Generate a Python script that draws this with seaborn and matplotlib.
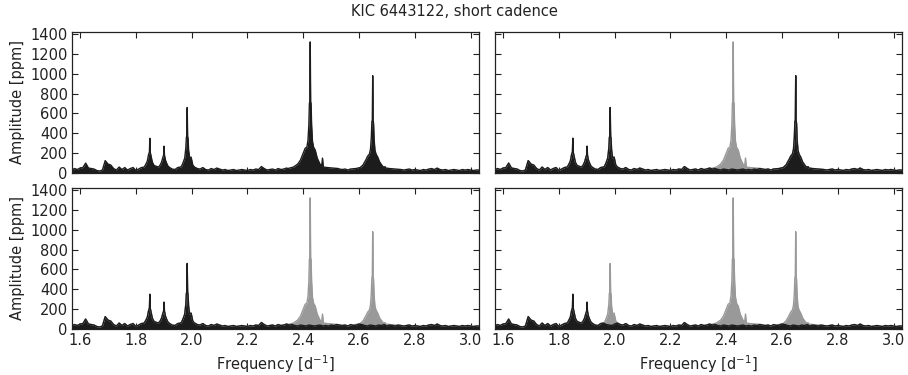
import numpy as np
import pandas as pd
import matplotlib
matplotlib.use("Agg")
import matplotlib.pyplot as plt
import seaborn as sns

# Background (residual-level) noise, read every 0.01 d^-1 from 1.57 to 3.03
noise_freq = np.round(np.arange(1.57, 3.035, 0.01), 2)
noise_amp = [
    30, 45, 35, 50, 55, 100, 50, 45, 40, 25,
    20, 30, 125, 90, 80, 45, 30, 60, 35, 55,
    30, 45, 55, 25, 40, 55, 45, 35, 30, 40,
    80, 60, 40, 35, 45, 50, 40, 35, 55, 60,
    45, 40, 35, 50, 60, 45, 40, 55, 35, 30,
    45, 35, 50, 40, 30, 35, 25, 30, 35, 25,
    30, 35, 30, 25, 35, 30, 40, 35, 65, 45,
    30, 35, 40, 30, 45, 35, 40, 50, 40, 45,
    35, 30, 40, 35, 30, 40, 35, 30, 35, 40,
    30, 35, 30, 40, 35, 45, 40, 35, 40, 30,
    45, 35, 40, 50, 45, 35, 30, 40, 35, 30,
    40, 35, 45, 30, 40, 35, 30, 40, 35, 30,
    35, 40, 30, 35, 30, 25, 35, 30, 40, 45,
    35, 50, 35, 30, 35, 25, 30, 35, 30, 25,
    35, 30, 35, 30, 25, 30, 30,
]

# Peak profiles (offsets from the peak centre, amplitudes in ppm)
small_offsets = [-0.020, -0.014, -0.009, -0.005, -0.003, -0.0015, 0.0,
                 0.0015, 0.003, 0.005, 0.009, 0.014, 0.020]
large_offsets = [-0.080, -0.060, -0.045, -0.035, -0.025, -0.018, -0.012,
                 -0.008, -0.005, -0.003, -0.0015, 0.0, 0.0015, 0.003, 0.005,
                 0.008, 0.012, 0.018, 0.025, 0.035, 0.041, 0.044, 0.047,
                 0.060, 0.080, 0.100]

peak_centres = {"f1": 1.850, "f2": 1.901, "f3": 1.984, "f4": 2.425, "f5": 2.649}
amp_f1 = [60, 90, 120, 180, 200, 210, 350, 210, 190, 160, 110, 80, 70]
amp_f2 = [60, 80, 110, 150, 170, 180, 270, 180, 160, 130, 100, 70, 55]
amp_f3 = [70, 110, 150, 250, 360, 370, 660, 370, 350, 230, 150, 160, 80]
amp_f4 = [45, 60, 90, 130, 200, 250, 260, 330, 480, 700, 720, 1320, 720,
          700, 480, 320, 260, 230, 150, 90, 70, 150, 60, 55, 50, 45]
amp_f5 = [40, 45, 55, 80, 130, 170, 190, 240, 360, 520, 530, 980, 530,
          500, 340, 230, 190, 160, 110, 70, 55, 65, 50, 45, 40, 35]

peaks = {
    "f1": (small_offsets, amp_f1),
    "f2": (small_offsets, amp_f2),
    "f3": (small_offsets, amp_f3),
    "f4": (large_offsets, amp_f4),
    "f5": (large_offsets, amp_f5),
}

# which peaks remain in the black spectrum of each panel
panel_peaks = [
    ["f1", "f2", "f3", "f4", "f5"],
    ["f1", "f2", "f3", "f5"],
    ["f1", "f2", "f3"],
    ["f1", "f2"],
]


def build_spectrum(names):
    keep = np.ones(len(noise_freq), dtype=bool)
    xs, ys = [], []
    for name in names:
        offsets, amps = peaks[name]
        f = peak_centres[name] + np.array(offsets)
        keep &= ~((noise_freq >= f[0] - 1e-9) & (noise_freq <= f[-1] + 1e-9))
        xs.append(f)
        ys.append(np.array(amps, dtype=float))
    x = np.concatenate([noise_freq[keep]] + xs)
    y = np.concatenate([np.array(noise_amp, dtype=float)[keep]] + ys)
    order = np.argsort(x)
    return pd.DataFrame({"freq": x[order], "amp": y[order]})


sns.set_style("ticks")
plt.rcParams["font.family"] = ["DejaVu Sans"]

fig = plt.figure(figsize=(9.08, 3.75), dpi=100)
W = 407 / 908
H = 141 / 375
positions = [
    [72 / 908, 1 - 173 / 375, W, H],
    [495 / 908, 1 - 173 / 375, W, H],
    [72 / 908, 1 - 329 / 375, W, H],
    [495 / 908, 1 - 329 / 375, W, H],
]

GREY = "#999999"
BLACK = "#1c1c1c"
original = build_spectrum(panel_peaks[0])

for i, pos in enumerate(positions):
    ax = fig.add_axes(pos)
    if i > 0:
        sns.lineplot(data=original, x="freq", y="amp", ax=ax, color=GREY,
                     lw=1.0, estimator=None, sort=False)
        ax.fill_between(original["freq"], 0, original["amp"], color=GREY, lw=0)
    spec = build_spectrum(panel_peaks[i])
    sns.lineplot(data=spec, x="freq", y="amp", ax=ax, color=BLACK,
                 lw=1.0, estimator=None, sort=False)
    ax.fill_between(spec["freq"], 0, spec["amp"], color=BLACK, lw=0)

    ax.set_xlim(1.571, 3.03)
    ax.set_ylim(0, 1420)
    ax.set_xticks([1.6, 1.8, 2.0, 2.2, 2.4, 2.6, 2.8, 3.0])
    ax.set_yticks(range(0, 1401, 200))
    ax.tick_params(direction="in", top=True, right=True, length=4,
                   width=0.8, labelsize=10.5, colors="#222222", pad=3)
    for s in ax.spines.values():
        s.set_color("#222222")
        s.set_linewidth(0.9)

    if i % 2 == 0:
        ax.set_ylabel("Amplitude [ppm]", fontsize=10.5, color="#222222")
    else:
        ax.set_ylabel("")
        ax.set_yticklabels([])
    if i < 2:
        ax.set_xlabel("")
        ax.set_xticklabels([])
    else:
        ax.set_xticklabels(["1.6", "1.8", "2.0", "2.2", "2.4", "2.6", "2.8", "3.0"])
        ax.set_xlabel("Frequency [d$^{-1}$]", fontsize=10.5, color="#222222")

fig.text(0.5, 1 - 12 / 375, "KIC 6443122, short cadence", ha="center",
         va="center", fontsize=10.5, color="#222222")

fig.savefig("out.png", dpi=100)
plt.close(fig)
